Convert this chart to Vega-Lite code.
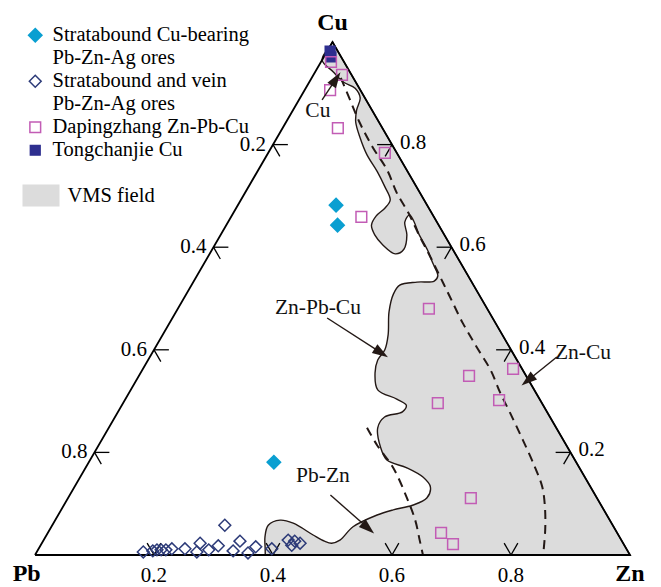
{
  "$schema": "https://vega.github.io/schema/vega-lite/v6.json",
  "width": 661,
  "height": 587,
  "autosize": "none",
  "padding": 0,
  "background": "white",
  "config": {"view": {"stroke": null}, "font": "Liberation Serif"},
  "datasets": {
    "pts": [
      {"group": "Tongchanjie Cu", "zn": 0.005, "cu": 0.982},
      {"group": "Tongchanjie Cu", "zn": 0.012, "cu": 0.971},
      {"group": "Dapingzhang Zn-Pb-Cu", "zn": 0.017, "cu": 0.961},
      {"group": "Dapingzhang Zn-Pb-Cu", "zn": 0.048, "cu": 0.936},
      {"group": "Dapingzhang Zn-Pb-Cu", "zn": 0.043, "cu": 0.906},
      {"group": "Dapingzhang Zn-Pb-Cu", "zn": 0.093, "cu": 0.832},
      {"group": "Dapingzhang Zn-Pb-Cu", "zn": 0.196, "cu": 0.784},
      {"group": "Dapingzhang Zn-Pb-Cu", "zn": 0.219, "cu": 0.659},
      {"group": "Dapingzhang Zn-Pb-Cu", "zn": 0.422, "cu": 0.480},
      {"group": "Dapingzhang Zn-Pb-Cu", "zn": 0.555, "cu": 0.349},
      {"group": "Dapingzhang Zn-Pb-Cu", "zn": 0.529, "cu": 0.296},
      {"group": "Dapingzhang Zn-Pb-Cu", "zn": 0.622, "cu": 0.363},
      {"group": "Dapingzhang Zn-Pb-Cu", "zn": 0.629, "cu": 0.302},
      {"group": "Dapingzhang Zn-Pb-Cu", "zn": 0.677, "cu": 0.111},
      {"group": "Dapingzhang Zn-Pb-Cu", "zn": 0.661, "cu": 0.043},
      {"group": "Dapingzhang Zn-Pb-Cu", "zn": 0.692, "cu": 0.021},
      {"group": "Stratabound Cu-bearing|Pb-Zn-Ag ores", "zn": 0.165, "cu": 0.682},
      {"group": "Stratabound Cu-bearing|Pb-Zn-Ag ores", "zn": 0.187, "cu": 0.643},
      {"group": "Stratabound Cu-bearing|Pb-Zn-Ag ores", "zn": 0.311, "cu": 0.181},
      {"group": "Stratabound and vein|Pb-Zn-Ag ores", "zn": 0.179, "cu": 0.006},
      {"group": "Stratabound and vein|Pb-Zn-Ag ores", "zn": 0.194, "cu": 0.008},
      {"group": "Stratabound and vein|Pb-Zn-Ag ores", "zn": 0.200, "cu": 0.010},
      {"group": "Stratabound and vein|Pb-Zn-Ag ores", "zn": 0.207, "cu": 0.010},
      {"group": "Stratabound and vein|Pb-Zn-Ag ores", "zn": 0.215, "cu": 0.010},
      {"group": "Stratabound and vein|Pb-Zn-Ag ores", "zn": 0.224, "cu": 0.012},
      {"group": "Stratabound and vein|Pb-Zn-Ag ores", "zn": 0.246, "cu": 0.012},
      {"group": "Stratabound and vein|Pb-Zn-Ag ores", "zn": 0.269, "cu": 0.006},
      {"group": "Stratabound and vein|Pb-Zn-Ag ores", "zn": 0.266, "cu": 0.023},
      {"group": "Stratabound and vein|Pb-Zn-Ag ores", "zn": 0.287, "cu": 0.010},
      {"group": "Stratabound and vein|Pb-Zn-Ag ores", "zn": 0.299, "cu": 0.018},
      {"group": "Stratabound and vein|Pb-Zn-Ag ores", "zn": 0.290, "cu": 0.058},
      {"group": "Stratabound and vein|Pb-Zn-Ag ores", "zn": 0.329, "cu": 0.008},
      {"group": "Stratabound and vein|Pb-Zn-Ag ores", "zn": 0.331, "cu": 0.027},
      {"group": "Stratabound and vein|Pb-Zn-Ag ores", "zn": 0.356, "cu": 0.004},
      {"group": "Stratabound and vein|Pb-Zn-Ag ores", "zn": 0.363, "cu": 0.016},
      {"group": "Stratabound and vein|Pb-Zn-Ag ores", "zn": 0.392, "cu": 0.012},
      {"group": "Stratabound and vein|Pb-Zn-Ag ores", "zn": 0.411, "cu": 0.029},
      {"group": "Stratabound and vein|Pb-Zn-Ag ores", "zn": 0.422, "cu": 0.019},
      {"group": "Stratabound and vein|Pb-Zn-Ag ores", "zn": 0.423, "cu": 0.027},
      {"group": "Stratabound and vein|Pb-Zn-Ag ores", "zn": 0.434, "cu": 0.023}
    ],
    "vms": [
      {"i": 1, "zn": 0.387, "cu": 0}, {"i": 2, "zn": 0.392, "cu": 0},
      {"i": 3, "zn": 0.995, "cu": 0}, {"i": 4, "zn": 1, "cu": 0},
      {"i": 5, "zn": 0.995, "cu": 0.005}, {"i": 6, "zn": 0.005, "cu": 0.995},
      {"i": 7, "zn": 0, "cu": 1}, {"i": 8, "zn": 0, "cu": 0.995},
      {"i": 9, "zn": 0, "cu": 0.965}, {"i": 10, "zn": 0.030, "cu": 0.942},
      {"i": 11, "zn": 0.057, "cu": 0.922}, {"i": 12, "zn": 0.083, "cu": 0.910},
      {"i": 13, "zn": 0.101, "cu": 0.891}, {"i": 14, "zn": 0.107, "cu": 0.867},
      {"i": 15, "zn": 0.117, "cu": 0.844}, {"i": 16, "zn": 0.140, "cu": 0.813},
      {"i": 17, "zn": 0.168, "cu": 0.780}, {"i": 18, "zn": 0.202, "cu": 0.747},
      {"i": 19, "zn": 0.228, "cu": 0.719}, {"i": 20, "zn": 0.251, "cu": 0.692},
      {"i": 21, "zn": 0.250, "cu": 0.676}, {"i": 22, "zn": 0.243, "cu": 0.661},
      {"i": 23, "zn": 0.244, "cu": 0.643}, {"i": 24, "zn": 0.259, "cu": 0.624},
      {"i": 25, "zn": 0.283, "cu": 0.604}, {"i": 26, "zn": 0.312, "cu": 0.587},
      {"i": 27, "zn": 0.322, "cu": 0.596}, {"i": 28, "zn": 0.313, "cu": 0.624},
      {"i": 29, "zn": 0.297, "cu": 0.649}, {"i": 30, "zn": 0.298, "cu": 0.663},
      {"i": 31, "zn": 0.311, "cu": 0.651}, {"i": 32, "zn": 0.332, "cu": 0.626},
      {"i": 33, "zn": 0.362, "cu": 0.595}, {"i": 34, "zn": 0.384, "cu": 0.569},
      {"i": 35, "zn": 0.405, "cu": 0.544}, {"i": 36, "zn": 0.404, "cu": 0.534},
      {"i": 37, "zn": 0.376, "cu": 0.532}, {"i": 38, "zn": 0.350, "cu": 0.526},
      {"i": 39, "zn": 0.348, "cu": 0.509}, {"i": 40, "zn": 0.358, "cu": 0.474},
      {"i": 41, "zn": 0.379, "cu": 0.429}, {"i": 42, "zn": 0.388, "cu": 0.400},
      {"i": 43, "zn": 0.386, "cu": 0.380}, {"i": 44, "zn": 0.394, "cu": 0.355},
      {"i": 45, "zn": 0.415, "cu": 0.322}, {"i": 46, "zn": 0.456, "cu": 0.304},
      {"i": 47, "zn": 0.478, "cu": 0.292}, {"i": 48, "zn": 0.478, "cu": 0.279},
      {"i": 49, "zn": 0.453, "cu": 0.269}, {"i": 50, "zn": 0.452, "cu": 0.248},
      {"i": 51, "zn": 0.475, "cu": 0.211}, {"i": 52, "zn": 0.499, "cu": 0.185},
      {"i": 53, "zn": 0.540, "cu": 0.170}, {"i": 54, "zn": 0.576, "cu": 0.152},
      {"i": 55, "zn": 0.598, "cu": 0.133}, {"i": 56, "zn": 0.603, "cu": 0.111},
      {"i": 57, "zn": 0.586, "cu": 0.097}, {"i": 58, "zn": 0.558, "cu": 0.088},
      {"i": 59, "zn": 0.536, "cu": 0.078}, {"i": 60, "zn": 0.507, "cu": 0.055},
      {"i": 61, "zn": 0.498, "cu": 0.029}, {"i": 62, "zn": 0.487, "cu": 0.023},
      {"i": 63, "zn": 0.473, "cu": 0.027}, {"i": 64, "zn": 0.448, "cu": 0.039},
      {"i": 65, "zn": 0.403, "cu": 0.062}, {"i": 66, "zn": 0.378, "cu": 0.068},
      {"i": 67, "zn": 0.363, "cu": 0.058}, {"i": 68, "zn": 0.369, "cu": 0.035},
      {"i": 69, "zn": 0.380, "cu": 0.0136}, {"i": 70, "zn": 0.387, "cu": 0}
    ],
    "dash": [
      {"id": 1, "i": 1, "zn": 0.049, "cu": 0.930}, {"id": 1, "i": 2, "zn": 0.086, "cu": 0.887},
      {"id": 1, "i": 3, "zn": 0.125, "cu": 0.842}, {"id": 1, "i": 4, "zn": 0.170, "cu": 0.795},
      {"id": 1, "i": 5, "zn": 0.217, "cu": 0.750}, {"id": 1, "i": 6, "zn": 0.255, "cu": 0.706},
      {"id": 1, "i": 7, "zn": 0.294, "cu": 0.667}, {"id": 1, "i": 8, "zn": 0.337, "cu": 0.620},
      {"id": 1, "i": 9, "zn": 0.374, "cu": 0.581}, {"id": 1, "i": 10, "zn": 0.410, "cu": 0.542},
      {"id": 1, "i": 11, "zn": 0.446, "cu": 0.503}, {"id": 1, "i": 12, "zn": 0.493, "cu": 0.452},
      {"id": 1, "i": 13, "zn": 0.540, "cu": 0.405}, {"id": 1, "i": 14, "zn": 0.585, "cu": 0.361},
      {"id": 1, "i": 15, "zn": 0.624, "cu": 0.316}, {"id": 1, "i": 16, "zn": 0.660, "cu": 0.277},
      {"id": 1, "i": 17, "zn": 0.708, "cu": 0.224}, {"id": 1, "i": 18, "zn": 0.754, "cu": 0.172},
      {"id": 1, "i": 19, "zn": 0.786, "cu": 0.133}, {"id": 1, "i": 20, "zn": 0.810, "cu": 0.094},
      {"id": 1, "i": 21, "zn": 0.833, "cu": 0.049}, {"id": 1, "i": 22, "zn": 0.854, "cu": 0},
      {"id": 2, "i": 1, "zn": 0.434, "cu": 0.248}, {"id": 2, "i": 2, "zn": 0.468, "cu": 0.214},
      {"id": 2, "i": 3, "zn": 0.517, "cu": 0.170}, {"id": 2, "i": 4, "zn": 0.568, "cu": 0.113},
      {"id": 2, "i": 5, "zn": 0.605, "cu": 0.068}, {"id": 2, "i": 6, "zn": 0.632, "cu": 0.029},
      {"id": 2, "i": 7, "zn": 0.652, "cu": 0}
    ],
    "tri": [
      {"i": 1, "zn": 0, "cu": 0}, {"i": 2, "zn": 1, "cu": 0},
      {"i": 3, "zn": 0, "cu": 1}, {"i": 4, "zn": 0, "cu": 0}
    ],
    "ticks": [
      {"zn": 0, "cu": 0.8, "zn2": 0.025, "cu2": 0.8}, {"zn": 0, "cu": 0.8, "zn2": 0.023, "cu2": 0.777},
      {"zn": 0, "cu": 0.6, "zn2": 0.025, "cu2": 0.6}, {"zn": 0, "cu": 0.6, "zn2": 0.023, "cu2": 0.577},
      {"zn": 0, "cu": 0.4, "zn2": 0.025, "cu2": 0.4}, {"zn": 0, "cu": 0.4, "zn2": 0.023, "cu2": 0.377},
      {"zn": 0, "cu": 0.2, "zn2": 0.025, "cu2": 0.2}, {"zn": 0, "cu": 0.2, "zn2": 0.023, "cu2": 0.177},
      {"zn": 0.2, "cu": 0, "zn2": 0.2, "cu2": 0.023}, {"zn": 0.2, "cu": 0, "zn2": 0.177, "cu2": 0.023},
      {"zn": 0.4, "cu": 0, "zn2": 0.4, "cu2": 0.023}, {"zn": 0.4, "cu": 0, "zn2": 0.377, "cu2": 0.023},
      {"zn": 0.6, "cu": 0, "zn2": 0.6, "cu2": 0.023}, {"zn": 0.6, "cu": 0, "zn2": 0.577, "cu2": 0.023},
      {"zn": 0.8, "cu": 0, "zn2": 0.8, "cu2": 0.023}, {"zn": 0.8, "cu": 0, "zn2": 0.777, "cu2": 0.023},
      {"zn": 0.8, "cu": 0.2, "zn2": 0.775, "cu2": 0.2}, {"zn": 0.8, "cu": 0.2, "zn2": 0.8, "cu2": 0.177},
      {"zn": 0.6, "cu": 0.4, "zn2": 0.575, "cu2": 0.4}, {"zn": 0.6, "cu": 0.4, "zn2": 0.6, "cu2": 0.377},
      {"zn": 0.4, "cu": 0.6, "zn2": 0.375, "cu2": 0.6}, {"zn": 0.4, "cu": 0.6, "zn2": 0.4, "cu2": 0.577},
      {"zn": 0.2, "cu": 0.8, "zn2": 0.175, "cu2": 0.8}, {"zn": 0.2, "cu": 0.8, "zn2": 0.2, "cu2": 0.777}
    ],
    "tlab": [
      {"side": "left", "label": "0.2", "zn": 0, "cu": 0.8},
      {"side": "left", "label": "0.4", "zn": 0, "cu": 0.6},
      {"side": "left", "label": "0.6", "zn": 0, "cu": 0.4},
      {"side": "left", "label": "0.8", "zn": 0, "cu": 0.2},
      {"side": "base", "label": "0.2", "zn": 0.2, "cu": 0},
      {"side": "base", "label": "0.4", "zn": 0.4, "cu": 0},
      {"side": "base", "label": "0.6", "zn": 0.6, "cu": 0},
      {"side": "base", "label": "0.8", "zn": 0.8, "cu": 0},
      {"side": "right", "label": "0.2", "zn": 0.8, "cu": 0.2},
      {"side": "right", "label": "0.4", "zn": 0.6, "cu": 0.4},
      {"side": "right", "label": "0.6", "zn": 0.4, "cu": 0.6},
      {"side": "right", "label": "0.8", "zn": 0.2, "cu": 0.8}
    ],
    "arrows": [
      {"name": "Cu", "zn": 0.039, "cu": 0.887, "zn2": 0.042, "cu2": 0.928},
      {"name": "Zn-Pb-Cu", "zn": 0.260, "cu": 0.462, "zn2": 0.385, "cu2": 0.394},
      {"name": "Zn-Cu", "zn": 0.684, "cu": 0.386, "zn2": 0.658, "cu2": 0.340},
      {"name": "Pb-Zn", "zn": 0.438, "cu": 0.117, "zn2": 0.534, "cu2": 0.052}
    ],
    "rlab": [
      {"text": "Cu", "zn": 0.043, "cu": 0.865},
      {"text": "Zn-Pb-Cu", "zn": 0.235, "cu": 0.481},
      {"text": "Zn-Cu", "zn": 0.724, "cu": 0.394},
      {"text": "Pb-Zn", "zn": 0.407, "cu": 0.154}
    ],
    "vlab": [
      {"text": "Cu", "zn": -0.0185, "cu": 1.037},
      {"text": "Pb", "zn": 0.005, "cu": -0.038},
      {"text": "Zn", "zn": 1.019, "cu": -0.038}
    ]
  },
  "encoding": {
    "x": {"field": "x", "type": "quantitative", "scale": {"domain": [-0.05882, 1.0521], "nice": false, "zero": false}, "axis": null},
    "y": {"field": "cu", "type": "quantitative", "scale": {"domain": [-0.06238, 1.08187], "nice": false, "zero": false}, "axis": null}
  },
  "layer": [
    {
      "data": {"name": "vms"},
      "transform": [{"calculate": "datum.zn + datum.cu / 2", "as": "x"}],
      "mark": {"type": "line", "interpolate": "catmull-rom", "fill": "#dcdcdc", "stroke": "#231815", "strokeWidth": 1.4},
      "encoding": {"order": {"field": "i", "type": "quantitative"}}
    },
    {
      "data": {"name": "vms"},
      "transform": [{"filter": "datum.i === 1"}, {"calculate": "datum.zn + datum.cu / 2", "as": "x"}],
      "mark": {"type": "point", "shape": "M-1,-0.6H1V0.6H-1Z", "filled": true, "fill": "#dcdcdc", "stroke": "#3a3330", "strokeWidth": 1.6, "size": 0, "opacity": 1},
      "encoding": {
        "opacity": {
          "datum": "VMS field", "type": "ordinal", "scale": {"range": [1, 1]},
          "legend": {"orient": "none", "legendX": 21.5, "legendY": 176, "title": null, "padding": 0,
            "symbolType": "M-1,-0.6H1V0.6H-1Z", "symbolSize": 1369, "symbolFillColor": "#dcdcdc", "symbolStrokeColor": "#3a3330", "symbolStrokeWidth": 1.6,
            "labelFont": "Liberation Serif", "labelFontSize": 20.5, "labelColor": "black", "labelOffset": 7}
        }
      }
    },
    {
      "data": {"name": "vms"},
      "transform": [{"filter": "datum.i === 1"}, {"calculate": "datum.zn + datum.cu / 2", "as": "x"}],
      "mark": {"type": "point", "shape": "M-1,-0.6H1V0.6H-1Z", "filled": true, "fill": "#3a3330", "strokeWidth": 0, "size": 0, "opacity": 1},
      "encoding": {
        "fillOpacity": {
          "datum": "VMS field", "type": "ordinal", "scale": {"range": [1, 1]},
          "legend": {"orient": "none", "legendX": 21.5, "legendY": 176, "title": null, "padding": 0,
            "symbolType": "M-1,-0.6H1V0.6H-1ZM-0.92,-0.52V0.52H0.92V-0.52Z", "symbolSize": 1369, "symbolFillColor": "#3a3330", "symbolStrokeWidth": 0,
            "labelExpr": "'VMS field'", "labelColor": "transparent", "labelFont": "Liberation Serif", "labelFontSize": 20.5, "labelOffset": 7}
        }
      }
    },
    {
      "data": {"name": "dash"},
      "transform": [{"calculate": "datum.zn + datum.cu / 2", "as": "x"}],
      "mark": {"type": "line", "interpolate": "catmull-rom", "stroke": "#231815", "strokeWidth": 2, "strokeDash": [9, 6]},
      "encoding": {"detail": {"field": "id", "type": "nominal"}, "order": {"field": "i", "type": "quantitative"}}
    },
    {
      "data": {"name": "tri"},
      "transform": [{"calculate": "datum.zn + datum.cu / 2", "as": "x"}],
      "mark": {"type": "line", "stroke": "black", "strokeWidth": 1.8, "strokeJoin": "miter"},
      "encoding": {"order": {"field": "i", "type": "quantitative"}}
    },
    {
      "data": {"name": "ticks"},
      "transform": [
        {"calculate": "datum.zn + datum.cu / 2", "as": "x"},
        {"calculate": "datum.zn2 + datum.cu2 / 2", "as": "x2"}
      ],
      "mark": {"type": "rule", "stroke": "black", "strokeWidth": 1.3},
      "encoding": {"x2": {"field": "x2"}, "y2": {"field": "cu2"}}
    },
    {
      "data": {"name": "pts"},
      "transform": [{"calculate": "datum.zn + datum.cu / 2", "as": "x"}],
      "mark": {"type": "point", "strokeWidth": 1.5, "opacity": 1},
      "encoding": {
        "shape": {"field": "group", "type": "nominal",
          "scale": {"domain": ["Stratabound Cu-bearing|Pb-Zn-Ag ores", "Stratabound and vein|Pb-Zn-Ag ores", "Dapingzhang Zn-Pb-Cu", "Tongchanjie Cu"], "range": ["diamond", "diamond", "square", "square"]},
          "legend": {"orient": "none", "legendX": 25, "legendY": 25, "title": null, "padding": 0, "labelExpr": "split(datum.label, '|')",
            "labelFont": "Liberation Serif", "labelFontSize": 20.5, "labelColor": "black", "labelLimit": 400, "labelOffset": 7, "rowPadding": 2, "symbolStrokeWidth": 1.5}},
        "fill": {"field": "group", "type": "nominal",
          "scale": {"domain": ["Stratabound Cu-bearing|Pb-Zn-Ag ores", "Stratabound and vein|Pb-Zn-Ag ores", "Dapingzhang Zn-Pb-Cu", "Tongchanjie Cu"], "range": ["#0a9fd1", "transparent", "transparent", "#2e2f8f"]},
          "legend": {"orient": "none", "legendX": 25, "legendY": 25, "title": null, "padding": 0, "labelExpr": "split(datum.label, '|')",
            "labelFont": "Liberation Serif", "labelFontSize": 20.5, "labelColor": "black", "labelLimit": 400, "labelOffset": 7, "rowPadding": 2, "symbolStrokeWidth": 1.5}},
        "stroke": {"field": "group", "type": "nominal",
          "scale": {"domain": ["Stratabound Cu-bearing|Pb-Zn-Ag ores", "Stratabound and vein|Pb-Zn-Ag ores", "Dapingzhang Zn-Pb-Cu", "Tongchanjie Cu"], "range": ["#0a9fd1", "#2c3a78", "#c25cb5", "#2e2f8f"]},
          "legend": {"orient": "none", "legendX": 25, "legendY": 25, "title": null, "padding": 0, "labelExpr": "split(datum.label, '|')",
            "labelFont": "Liberation Serif", "labelFontSize": 20.5, "labelColor": "black", "labelLimit": 400, "labelOffset": 7, "rowPadding": 2, "symbolStrokeWidth": 1.5}},
        "size": {"field": "group", "type": "nominal",
          "scale": {"type": "ordinal", "domain": ["Stratabound Cu-bearing|Pb-Zn-Ag ores", "Stratabound and vein|Pb-Zn-Ag ores", "Dapingzhang Zn-Pb-Cu", "Tongchanjie Cu"], "range": [180, 140, 115, 95]},
          "legend": {"orient": "none", "legendX": 25, "legendY": 25, "title": null, "padding": 0, "labelExpr": "split(datum.label, '|')",
            "labelFont": "Liberation Serif", "labelFontSize": 20.5, "labelColor": "black", "labelLimit": 400, "labelOffset": 7, "rowPadding": 2, "symbolStrokeWidth": 1.5}}
      }
    },
    {
      "data": {"name": "arrows"},
      "transform": [
        {"calculate": "datum.zn + datum.cu / 2", "as": "x"},
        {"calculate": "datum.zn2 + datum.cu2 / 2", "as": "x2"}
      ],
      "mark": {"type": "rule", "stroke": "#231815", "strokeWidth": 1.4},
      "encoding": {"x2": {"field": "x2"}, "y2": {"field": "cu2"}}
    },
    {
      "data": {"name": "arrows"},
      "transform": [
        {"calculate": "datum.zn + datum.cu / 2", "as": "x0"},
        {"calculate": "datum.zn2 + datum.cu2 / 2", "as": "x"},
        {"calculate": "atan2((datum.x - datum.x0) * 595, (datum.cu2 - datum.cu) * 513) * 180 / PI", "as": "ang"}
      ],
      "mark": {"type": "point", "shape": "M0,-1L0.65,1L-0.65,1Z", "filled": true, "fill": "#231815", "stroke": null, "size": 250, "opacity": 1},
      "encoding": {
        "y": {"field": "cu2", "type": "quantitative"},
        "angle": {"field": "ang", "type": "quantitative", "scale": null}
      }
    },
    {
      "data": {"name": "rlab"},
      "transform": [{"calculate": "datum.zn + datum.cu / 2", "as": "x"}],
      "mark": {"type": "text", "font": "Liberation Serif", "fontSize": 21.5, "fill": "#111111", "align": "center", "baseline": "middle"},
      "encoding": {"text": {"field": "text"}}
    },
    {
      "data": {"name": "vlab"},
      "transform": [{"calculate": "datum.zn + datum.cu / 2", "as": "x"}],
      "mark": {"type": "text", "font": "Liberation Serif", "fontSize": 24, "fontWeight": "bold", "fill": "black", "align": "center", "baseline": "middle"},
      "encoding": {"text": {"field": "text"}}
    },
    {
      "data": {"name": "tlab"},
      "transform": [{"filter": "datum.side === 'left'"}, {"calculate": "datum.zn + datum.cu / 2", "as": "x"}],
      "mark": {"type": "text", "font": "Liberation Serif", "fontSize": 21, "fill": "black", "align": "right", "baseline": "middle", "dx": -7},
      "encoding": {"text": {"field": "label"}}
    },
    {
      "data": {"name": "tlab"},
      "transform": [{"filter": "datum.side === 'right'"}, {"calculate": "datum.zn + datum.cu / 2", "as": "x"}],
      "mark": {"type": "text", "font": "Liberation Serif", "fontSize": 21, "fill": "black", "align": "left", "baseline": "middle", "dx": 8, "dy": -2},
      "encoding": {"text": {"field": "label"}}
    },
    {
      "data": {"name": "tlab"},
      "transform": [{"filter": "datum.side === 'base'"}, {"calculate": "datum.zn + datum.cu / 2", "as": "x"}],
      "mark": {"type": "text", "font": "Liberation Serif", "fontSize": 21, "fill": "black", "align": "center", "baseline": "middle", "dy": 21},
      "encoding": {"text": {"field": "label"}}
    }
  ]
}
